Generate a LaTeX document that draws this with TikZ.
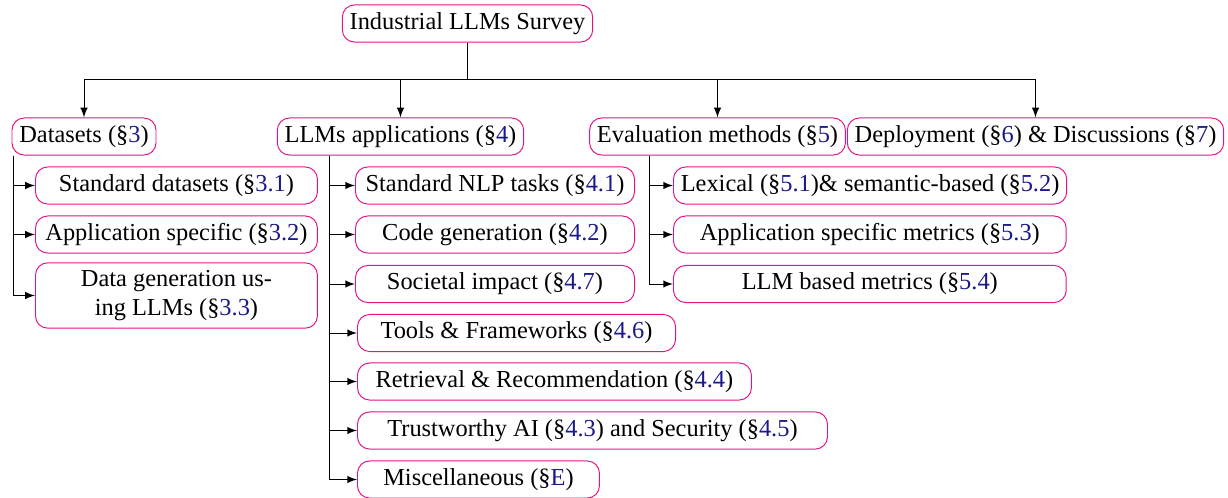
\documentclass[tikz,border=0pt]{standalone}
\usepackage{fontspec}
\setmainfont{Liberation Serif}
\definecolor{boxpink}{RGB}{228,20,135}
\definecolor{refblue}{RGB}{25,25,140}
\newcommand{\secnum}[1]{\textcolor{refblue}{#1}}
\tikzset{
  topic/.style={draw=boxpink, rounded corners=5pt, align=center, minimum height=15.2pt, inner sep=3pt},
  link/.style={-latex},
}
\begin{document}
\begin{tikzpicture}[x=0.41pt, y=-0.41pt]
\useasboundingbox (0,0) rectangle (1228,497);
% root and first level
\node [topic] (root) at (467.5,23.5) {Industrial LLMs Survey};
\node [topic] (ds) at (84,136.5) {Datasets (\S\secnum{3})};
\node [topic] (app) at (400.5,136.5) {LLMs applications (\S\secnum{4})};
\node [topic] (eval) at (717.5,136.5) {Evaluation methods (\S\secnum{5})};
\node [topic] (dep) at (1035.5,136.5) {Deployment (\S\secnum{6}) \& Discussions (\S\secnum{7})};
\coordinate (hub) at (467.5,79);
\draw (root) -- (hub);
\foreach \n in {ds,app,eval,dep}
  \draw [link] (hub) -| (\n);
% datasets
\node [topic, anchor=west, minimum width=115.6pt] (ds1) at (35,185.5) {Standard datasets (\S\secnum{3.1})};
\node [topic, anchor=west, minimum width=115.6pt] (ds2) at (35,234.5) {Application specific (\S\secnum{3.2})};
\node [topic, anchor=west, minimum width=115.6pt, minimum height=25.8pt] (ds3) at (35,295.5) {Data generation us-\\ing LLMs (\S\secnum{3.3})};
\coordinate (dsx) at (13,0);
\foreach \c in {ds1,ds2,ds3}
  \draw [link] (ds.south -| dsx) |- (\c);
% applications
\node [topic, anchor=west, minimum width=114.4pt] (app1) at (355,185.5) {Standard NLP tasks (\S\secnum{4.1})};
\node [topic, anchor=west, minimum width=114.4pt] (app2) at (355,234.5) {Code generation (\S\secnum{4.2})};
\node [topic, anchor=west, minimum width=114.4pt] (app3) at (355,284) {Societal impact (\S\secnum{4.7})};
\node [topic, anchor=west, minimum width=130.4pt] (app4) at (357,333) {Tools \& Frameworks (\S\secnum{4.6})};
\node [topic, anchor=west, minimum width=161.5pt] (app5) at (357,381.5) {Retrieval \& Recommendation (\S\secnum{4.4})};
\node [topic, anchor=west, minimum width=192.7pt] (app6) at (357,430.5) {Trustworthy AI (\S\secnum{4.3}) and Security (\S\secnum{4.5})};
\node [topic, anchor=west, minimum width=99.2pt] (app7) at (357,479.5) {Miscellaneous (\S\secnum{E})};
\coordinate (appx) at (329,0);
\foreach \c in {app1,app2,app3,app4,app5,app6,app7}
  \draw [link] (app.south -| appx) |- (\c);
% evaluation
\node [topic, anchor=west, minimum width=161pt] (ev1) at (673,185.5) {Lexical (\S\secnum{5.1})\& semantic-based (\S\secnum{5.2})};
\node [topic, anchor=west, minimum width=161pt] (ev2) at (673,234.5) {Application specific metrics (\S\secnum{5.3})};
\node [topic, anchor=west, minimum width=161pt] (ev3) at (673,284) {LLM based metrics (\S\secnum{5.4})};
\coordinate (evalx) at (649,0);
\foreach \c in {ev1,ev2,ev3}
  \draw [link] (eval.south -| evalx) |- (\c);
\end{tikzpicture}
\end{document}
